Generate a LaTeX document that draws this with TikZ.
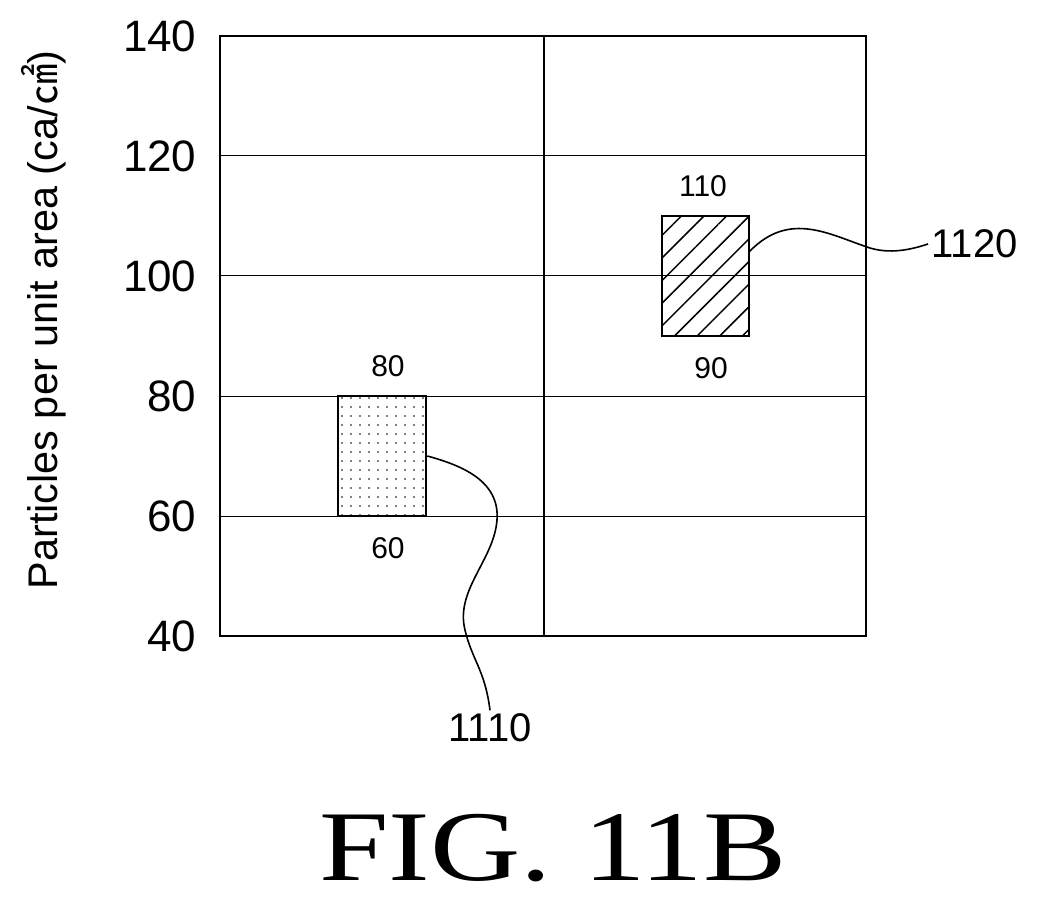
\documentclass[tikz,border=0pt]{standalone}
\usepackage{fontspec}
\setmainfont{Liberation Sans}
\newfontfamily\serifx{Liberation Serif}
\newfontfamily\cjk{Noto Sans CJK SC}
\usetikzlibrary{patterns.meta}
\begin{document}
\begin{tikzpicture}[x=1pt,y=-1pt,
  tick/.style={anchor=east,font=\fontsize{44}{44}\selectfont},
  val/.style={font=\fontsize{30}{30}\selectfont},
  grid/.style={line width=1pt},
  frame/.style={line width=2.2pt},
  bar/.style={draw,line width=2.6pt},
  lead/.style={line width=1.6pt}]
\useasboundingbox (0,0) rectangle (1042,920);
\foreach \y in {156,276,396,516} \draw[grid] (220,\y) -- (866,\y);
\draw[frame] (220,36) rectangle (866,636);
\draw[frame] (544,36) -- (544,636);
\foreach \v/\y in {140/36,120/156,100/276,80/396,60/516,40/636}
  \node[tick] (t\v) at (200,\y) {\v};
\node[rotate=90,font=\fontsize{36}{36}\selectfont,xscale=1.15,yscale=1.15] (yl) at (44,320) {Particles per unit area (ca/{\cjk ㎠})};
\node[bar,pattern={Dots[distance=9pt,radius=0.8pt]},minimum width=88,minimum height=120,inner sep=0] (b1) at (382,456) {};
\node[bar,pattern={Lines[angle=45,distance=16pt,line width=1.5pt]},minimum width=87,minimum height=120,inner sep=0] (b2) at (705.5,276) {};
\node[val] (l80) at (388,366) {80};
\node[val] (l60) at (388,548) {60};
\node[val] (l110) at (703,186) {110};
\node[val] (l90) at (711,368) {90};
\node[font=\fontsize{40}{40}\selectfont] (n1110) at (490,728) {1110};
\node[font=\fontsize{40}{40}\selectfont,anchor=west] (n1120) at (928,244) {1120};
\draw[lead] (b1.east) .. controls (460,465) and (500,480) .. (497,520) .. controls (494,560) and (455,590) .. (465,630) .. controls (472,660) and (485,670) .. (n1110.north);
\draw[lead] ([yshift=-36pt]b2.north east) .. controls (790,210) and (830,235) .. (870,248) .. controls (890,254) and (910,250) .. (n1120.west);
\node[font=\serifx\fontsize{100}{100}\selectfont,xscale=1.25] (fig) at (553,848) {FIG. 11B};
\end{tikzpicture}
\end{document}
